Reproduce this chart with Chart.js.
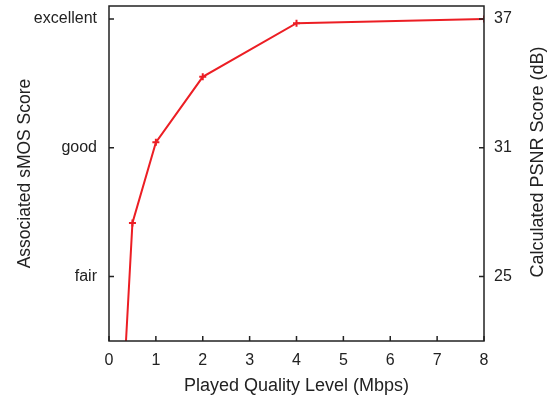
<!DOCTYPE html>
<html>
<head>
<meta charset="utf-8">
<script src="https://cdn.jsdelivr.net/npm/chart.js@4"></script>
<style>
  html, body { margin: 0; padding: 0; background: #fff; }
  #wrap { width: 557px; height: 403px; }
</style>
</head>
<body>
<div id="wrap"><canvas id="psnrChart" width="557" height="403"></canvas></div>
<script>
// data
const bitrates = [0.35, 0.5, 1, 2, 4, 8];
const psnr = [21.5, 27.5, 31.25, 34.3, 36.8, 37.0];
const psnrTicks = [25, 31, 37];
const mosLabels = ['fair', 'good', 'excellent'];

const family = 'Liberation Sans, Arial, Helvetica, sans-serif';
const font = { family, size: 16 };
const ink = '#222';

// plot frame, inward ticks and the right-hand title (reads bottom to top)
const framePlugin = {
  id: 'frame',
  afterDraw(chart) {
    const { ctx, chartArea: a, scales } = chart;
    ctx.save();
    ctx.strokeStyle = ink;
    ctx.lineWidth = 1.5;
    ctx.strokeRect(a.left, a.top, a.right - a.left, a.bottom - a.top);
    ctx.beginPath();
    scales.x.ticks.forEach(t => {
      const px = scales.x.getPixelForValue(t.value);
      ctx.moveTo(px, a.bottom);
      ctx.lineTo(px, a.bottom - 5);
    });
    scales.y.ticks.forEach(t => {
      const py = scales.y.getPixelForValue(t.value);
      ctx.moveTo(a.left, py);
      ctx.lineTo(a.left + 5, py);
    });
    scales.y2.ticks.forEach(t => {
      const py = scales.y2.getPixelForValue(t.value);
      ctx.moveTo(a.right, py);
      ctx.lineTo(a.right - 5, py);
    });
    ctx.stroke();

    ctx.translate(538, 162);
    ctx.rotate(-Math.PI / 2);
    ctx.fillStyle = ink;
    ctx.font = '18px ' + family;
    ctx.textAlign = 'center';
    ctx.textBaseline = 'middle';
    ctx.fillText('Calculated PSNR Score (dB)', 0, 0);
    ctx.restore();
  }
};

const setTicks = scale => { scale.ticks = psnrTicks.map(v => ({ value: v })); };
// fixed axis boxes, no extra room for overhanging labels
const fixBox = (w, h) => s => {
  if (w) s.width = w;
  if (h) s.height = h;
  s.paddingTop = 0; s.paddingBottom = 0; s.paddingLeft = 0; s.paddingRight = 0;
};

const config = {
  type: 'line',
  data: {
    datasets: [{
      data: bitrates.map((b, i) => ({ x: b, y: psnr[i] })),
      borderColor: 'rgb(236,30,36)',
      backgroundColor: 'rgb(236,30,36)',
      borderWidth: 2,
      pointStyle: 'cross',
      pointRadius: 3.5,
      pointBorderWidth: 2,
      tension: 0,
      yAxisID: 'y'
    }]
  },
  options: {
    responsive: false,
    animation: false,
    layout: { padding: { top: 5, right: 0, left: 0, bottom: 0 } },
    plugins: { legend: { display: false }, tooltip: { enabled: false } },
    scales: {
      x: {
        type: 'linear',
        min: 0, max: 8,
        ticks: { stepSize: 1, color: ink, font, padding: 10 },
        grid: { display: false, drawTicks: false },
        border: { display: false },
        title: { display: true, text: 'Played Quality Level (Mbps)', color: ink, font: { family, size: 18 }, padding: { top: 0, bottom: 6 } },
        afterFit: fixBox(0, 62)
      },
      y: {
        position: 'left',
        min: 22, max: 37.6,
        afterBuildTicks: setTicks,
        ticks: {
          color: ink, font, padding: 12,
          callback: v => mosLabels[psnrTicks.indexOf(v)]
        },
        grid: { display: false, drawTicks: false },
        border: { display: false },
        title: { display: true, text: 'Associated sMOS Score', color: ink, font: { family, size: 17.5 }, padding: { top: 15, bottom: 0 } },
        afterFit: fixBox(109, 0)
      },
      y2: {
        position: 'right',
        min: 22, max: 37.6,
        afterBuildTicks: setTicks,
        ticks: { color: ink, font, padding: 10 },
        grid: { display: false, drawTicks: false },
        border: { display: false },
        afterFit: fixBox(73, 0)
      }
    }
  },
  plugins: [framePlugin]
};

const psnrChart = new Chart(document.getElementById('psnrChart').getContext('2d'), config);
</script>
</body>
</html>
